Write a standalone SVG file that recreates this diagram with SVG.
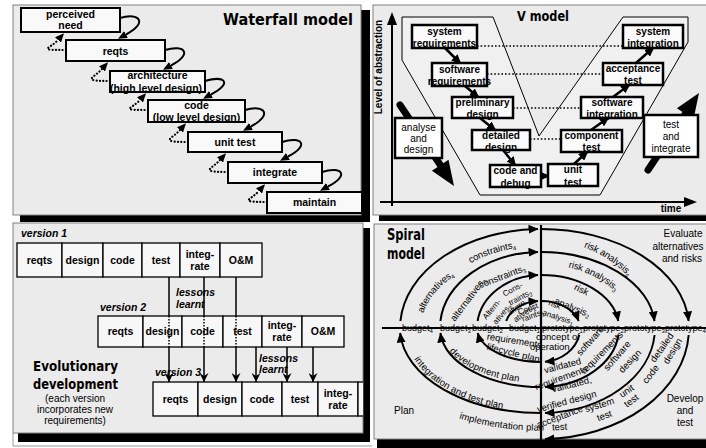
<svg xmlns="http://www.w3.org/2000/svg" width="706" height="448" viewBox="0 0 706 448">
<defs>
<style>
.pnl{fill:#ebebeb;stroke:#808080;stroke-width:1}
.sh{fill:#000}
.wb{fill:#f9f9f9;stroke:#000;stroke-width:2}
.b10{font-family:"Liberation Sans",Arial,sans-serif;font-weight:bold;font-size:10.5px;text-anchor:middle;fill:#000}
.vt{font-family:"Liberation Sans",Arial,sans-serif;font-weight:bold;font-size:10px;text-anchor:middle;fill:#000}
.nt{font-family:"Liberation Sans",Arial,sans-serif;font-size:10px;text-anchor:middle;fill:#000}
.ttl{font-family:"DejaVu Sans",sans-serif;font-weight:bold;fill:#000}
.loop{fill:none;stroke:#000;stroke-width:2;marker-end:url(#ah)}
.dot{fill:none;stroke:#000;stroke-width:2.2;stroke-dasharray:0.1 3.2;stroke-linecap:round;marker-end:url(#ah)}
.vb{fill:#fbfbfb;stroke:#000;stroke-width:2.5}
.va{stroke:#000;stroke-width:2.5;marker-end:url(#ahv)}
.vd{stroke:#000;stroke-width:1.6;stroke-dasharray:1.6 2}
.eb{fill:#f7f7f7;stroke:#000;stroke-width:1.3}
.ev{stroke:#000;stroke-width:1.5}
.evd{stroke:#000;stroke-width:1.5;stroke-dasharray:1.5 1.5}
.ea{stroke:#000;stroke-width:1.5;marker-end:url(#ahe)}
.it{font-family:"Liberation Sans",Arial,sans-serif;font-weight:bold;font-style:italic;font-size:10.5px;fill:#000}
.sp{fill:none;stroke:#000;stroke-width:2;marker-end:url(#ahs)}
.sl{font-family:"Liberation Sans",Arial,sans-serif;font-size:9.5px;fill:#000}
.sm{font-family:"Liberation Sans",Arial,sans-serif;font-size:8px;fill:#000}
.ax{font-family:"Liberation Sans",Arial,sans-serif;font-size:9px;fill:#000}
.sb{font-size:6px}
</style>
<marker id="ah" viewBox="0 0 9 8" refX="0" refY="4" markerWidth="9" markerHeight="8" markerUnits="userSpaceOnUse" orient="auto"><path d="M0,0 L9,4 L0,8 z" fill="#000" stroke="none"/></marker>
<marker id="ahv" viewBox="0 0 10 9" refX="8" refY="4.5" markerWidth="10" markerHeight="9" markerUnits="userSpaceOnUse" orient="auto"><path d="M0,0 L10,4.5 L0,9 z" fill="#000" stroke="none"/></marker>
<marker id="ahe" viewBox="0 0 9 9" refX="9" refY="4.5" markerWidth="9" markerHeight="9" markerUnits="userSpaceOnUse" orient="auto"><path d="M0,0 L9,4.5 L0,9 L3,4.5 z" fill="#000" stroke="none"/></marker>
<marker id="ahs" viewBox="0 0 10 9" refX="9.5" refY="4.5" markerWidth="10" markerHeight="9" markerUnits="userSpaceOnUse" orient="auto"><path d="M0,0 L10,4.5 L0,9 z" fill="#000" stroke="none"/></marker>
<clipPath id="evclip"><rect x="13" y="223" width="350" height="210"/></clipPath>
<path id="p-alt4" d="M420,312 A123.6,79.1 0 0 1 541,248.9"/>
<path id="p-con4" d="M469,260 A118.8,85.5 0 0 1 571,245.3"/>
<path id="p-risk4" d="M585,244 A110.6,91.6 0 0 1 651.6,328"/>
<path id="p-risk3" d="M569,264 A94,67 0 0 1 635,328"/>
<path id="p-dev" d="M452,349 A97.5,51.5 0 0 0 541,379.5"/>
<path id="p-int" d="M417,357 A132.9,80.6 0 0 0 541,408.6"/>
<path id="p-imp" d="M460,415 A169.1,99.1 0 0 0 571,425.5"/>
</defs>
<rect width="706" height="448" fill="#fff"/>
<path d="M13,433 V446 H372" fill="none" stroke="#999" stroke-width="1"/>

<!-- ============ Waterfall panel ============ -->
<g id="waterfall-panel">
<rect class="sh" x="20" y="10" width="350" height="212"/>
<rect class="pnl" x="13" y="5" width="348" height="210"/>
<text class="ttl" x="223" y="25" font-size="16" textLength="130" lengthAdjust="spacingAndGlyphs">Waterfall model</text>
</g>
<g id="wf-connectors">
<path class="loop" d="M120,18 C140,12 148,23 126,34.5"/>
<path class="loop" d="M165,50 C185,44 193,54 171,65.5"/>
<path class="loop" d="M205,81 C225,75 233,83 211,94.5"/>
<path class="loop" d="M245,110 C265,104 273,115 251,126.5"/>
<path class="loop" d="M282,142 C302,136 310,145 288,156.5"/>
<path class="loop" d="M322,172 C342,166 350,175 328,186.5"/>
<path class="dot" d="M66,50 C36,50 50,49 58,40"/>
<path class="dot" d="M110,81 C80,81 94,78 102,69"/>
<path class="dot" d="M148,110 C118,110 132,109 140,100"/>
<path class="dot" d="M188,142 C158,142 172,139 180,130"/>
<path class="dot" d="M228,172 C198,172 212,169 220,160"/>
<path class="dot" d="M267,202 C237,202 251,200 259,191"/>
</g>
<g id="wf-perceived"><rect class="wb" x="21" y="8" width="99" height="24"/><text class="b10" x="70.5" y="18">perceived</text><text class="b10" x="70.5" y="29">need</text></g>
<g id="wf-reqts"><rect class="wb" x="66" y="40" width="99" height="21"/><text class="b10" x="115.5" y="54.5">reqts</text></g>
<g id="wf-arch"><rect class="wb" x="110" y="71" width="95" height="21"/><text class="b10" x="157.5" y="79">architecture</text><text class="b10" x="156" y="91.5">(high level design)</text></g>
<g id="wf-code"><rect class="wb" x="148" y="100" width="97" height="22"/><text class="b10" x="196.5" y="109">code</text><text class="b10" x="196.5" y="121">(low level design)</text></g>
<g id="wf-unit"><rect class="wb" x="188" y="132" width="94" height="20"/><text class="b10" x="235" y="145.5">unit test</text></g>
<g id="wf-integrate"><rect class="wb" x="228" y="162" width="94" height="21"/><text class="b10" x="275" y="176">integrate</text></g>
<g id="wf-maintain"><rect class="wb" x="267" y="192" width="95" height="21"/><text class="b10" x="314.5" y="206">maintain</text></g>

<!-- ============ V model panel ============ -->
<g id="v-panel">
<rect class="sh" x="379" y="10" width="335" height="211"/>
<rect class="pnl" x="373" y="5" width="340" height="210" fill="#e6e6e6"/>
<polygon points="402,17 493,17 539,136 623,17 688,17 688,42 600,195 480,195 402,60" fill="#f0f0f0" stroke="#000" stroke-width="1"/>
<text class="ttl" x="517" y="21" font-size="14" font-family="Liberation Sans" textLength="52" lengthAdjust="spacingAndGlyphs">V model</text>
<line x1="392" y1="206" x2="392" y2="22" stroke="#000" stroke-width="2"/>
<polygon points="392,12 387,25 397,25" fill="#000"/>
<line x1="380" y1="202" x2="686" y2="202" stroke="#000" stroke-width="2"/>
<polygon points="697,202 684,197 684,207" fill="#000"/>
<text class="vt" transform="translate(382,67) rotate(-90)">Level of abstraction</text>
<text class="vt" x="671" y="212">time</text>
</g>
<g id="v-connectors">
<line class="vd" x1="477" y1="46" x2="623" y2="46"/>
<line class="vd" x1="487" y1="74" x2="603" y2="74"/>
<line class="vd" x1="513" y1="108" x2="581" y2="108"/>
<line class="vd" x1="530" y1="139" x2="561" y2="139"/>
<line class="va" x1="445" y1="48" x2="460" y2="63"/>
<line class="va" x1="465" y1="86" x2="478" y2="97"/>
<line class="va" x1="480" y1="118" x2="495" y2="130"/>
<line class="va" x1="503" y1="150" x2="515" y2="165"/>
<line class="va" x1="541" y1="176" x2="548" y2="176"/>
<line class="va" x1="574" y1="164" x2="587" y2="152"/>
<line class="va" x1="591" y1="130" x2="608" y2="118"/>
<line class="va" x1="613" y1="97" x2="629" y2="85"/>
<line class="va" x1="636" y1="63" x2="653" y2="48"/>
</g>
<g id="v-sysreq"><rect class="vb" x="412" y="25" width="65" height="23"/><text class="vt" x="444.5" y="35">system</text><text class="vt" x="444.5" y="46.5">requirements</text></g>
<g id="v-swreq"><rect class="vb" x="432" y="63" width="55" height="23"/><text class="vt" x="459.5" y="73">software</text><text class="vt" x="459.5" y="84.5">requirements</text></g>
<g id="v-prelim"><rect class="vb" x="452" y="97" width="61" height="21"/><text class="vt" x="482.5" y="106">preliminary</text><text class="vt" x="482.5" y="117.5">design</text></g>
<g id="v-detailed"><rect class="vb" x="472" y="130" width="58" height="20"/><text class="vt" x="501" y="139">detailed</text><text class="vt" x="501" y="150.5">design</text></g>
<g id="v-code"><rect class="vb" x="490" y="165" width="51" height="22"/><text class="vt" x="515.5" y="174">code and</text><text class="vt" x="515.5" y="186.5">debug</text></g>
<g id="v-unit"><rect class="vb" x="548" y="164" width="50" height="22"/><text class="vt" x="573" y="173">unit</text><text class="vt" x="573" y="185.5">test</text></g>
<g id="v-comp"><rect class="vb" x="561" y="130" width="61" height="22"/><text class="vt" x="591.5" y="139">component</text><text class="vt" x="591.5" y="151">test</text></g>
<g id="v-swint"><rect class="vb" x="581" y="97" width="62" height="21"/><text class="vt" x="612" y="106">software</text><text class="vt" x="612" y="117.5">integration</text></g>
<g id="v-accept"><rect class="vb" x="603" y="63" width="60" height="22"/><text class="vt" x="633" y="72">acceptance</text><text class="vt" x="633" y="84">test</text></g>
<g id="v-sysint"><rect class="vb" x="623" y="25" width="60" height="23"/><text class="vt" x="653" y="35">system</text><text class="vt" x="653" y="46.5">integration</text></g>
<g id="v-analyse">
<line x1="400" y1="105" x2="441" y2="166" stroke="#000" stroke-width="7" stroke-linecap="round"/>
<polygon points="454,186 448.5,159.7 431.9,170.7" fill="#000"/>
<rect x="395" y="118" width="47" height="40" fill="#fff" stroke="#000" stroke-width="2.5"/>
<text class="nt" x="418.5" y="131">analyse</text><text class="nt" x="418.5" y="142">and</text><text class="nt" x="418.5" y="153">design</text>
</g>
<g id="v-testint">
<line x1="648" y1="170" x2="686" y2="113" stroke="#000" stroke-width="7" stroke-linecap="round"/>
<polygon points="699,93 693.5,119.3 676.9,108.3" fill="#000"/>
<rect x="644" y="115" width="54" height="42" fill="#fff" stroke="#000" stroke-width="2.5"/>
<text class="nt" x="671" y="128">test</text><text class="nt" x="671" y="140">and</text><text class="nt" x="671" y="152">integrate</text>
</g>

<!-- ============ Evolutionary panel ============ -->
<g id="evo-panel">
<rect class="sh" x="18" y="228" width="352" height="214"/>
<rect class="pnl" x="13" y="223" width="350" height="210"/>
<text class="it" x="21" y="237">version 1</text>
<text class="it" x="100" y="311">version 2</text>
<text class="it" x="155" y="376">version 3</text>
<text class="it" x="176" y="296">lessons</text>
<text class="it" x="176" y="308">learnt</text>
<text class="it" x="259" y="362">lessons</text>
<text class="it" x="259" y="373">learnt</text>
<text class="ttl" x="33" y="371" font-size="14" textLength="85" lengthAdjust="spacingAndGlyphs">Evolutionary</text>
<text class="ttl" x="33" y="389" font-size="14" textLength="85" lengthAdjust="spacingAndGlyphs">development</text>
<text class="nt" x="75" y="402" font-size="9.5">(each version</text>
<text class="nt" x="75" y="413" font-size="9.5">incorporates new</text>
<text class="nt" x="75" y="424" font-size="9.5">requirements)</text>
</g>
<g id="evo-connectors">
<line class="ev" x1="169" y1="277" x2="169" y2="316"/><line class="ea" x1="169" y1="347" x2="169" y2="382"/>
<line class="ev" x1="204" y1="277" x2="204" y2="316"/><line class="ea" x1="204" y1="347" x2="204" y2="382"/>
<line class="ev" x1="236" y1="277" x2="236" y2="316"/><line class="ea" x1="236" y1="347" x2="236" y2="382"/>
<line class="ea" x1="256" y1="347" x2="256" y2="382"/>
<line class="ea" x1="287" y1="347" x2="287" y2="382"/>
<line class="ea" x1="313" y1="347" x2="313" y2="382"/>
</g>
<g id="evo-v1">
<rect class="eb" x="17" y="243" width="45" height="34"/><text class="b10" x="39.5" y="263.5">reqts</text>
<rect class="eb" x="62" y="243" width="41" height="34"/><text class="b10" x="82.5" y="263.5">design</text>
<rect class="eb" x="103" y="243" width="39" height="34"/><text class="b10" x="122.5" y="263.5">code</text>
<rect class="eb" x="142" y="243" width="38" height="34"/><text class="b10" x="161" y="263.5">test</text>
<rect class="eb" x="180" y="243" width="40" height="34"/><text class="b10" x="200" y="258">integ-</text><text class="b10" x="200" y="270">rate</text>
<rect class="eb" x="220" y="243" width="42" height="34"/><text class="b10" x="241" y="263.5">O&amp;M</text>
</g>
<g id="evo-v2">
<rect class="eb" x="98" y="316" width="45" height="31"/><text class="b10" x="120.5" y="335">reqts</text>
<rect class="eb" x="143" y="316" width="39" height="31"/><text class="b10" x="162.5" y="335">design</text>
<rect class="eb" x="182" y="316" width="41" height="31"/><text class="b10" x="202.5" y="335">code</text>
<rect class="eb" x="223" y="316" width="39" height="31"/><text class="b10" x="242.5" y="335">test</text>
<rect class="eb" x="262" y="316" width="40" height="31"/><text class="b10" x="282" y="329">integ-</text><text class="b10" x="282" y="341">rate</text>
<rect class="eb" x="302" y="316" width="42" height="31"/><text class="b10" x="323" y="335">O&amp;M</text>
</g>
<g id="evo-v3" clip-path="url(#evclip)">
<rect class="eb" x="153" y="382" width="45" height="34"/><text class="b10" x="175.5" y="402.5">reqts</text>
<rect class="eb" x="198" y="382" width="44" height="34"/><text class="b10" x="220" y="402.5">design</text>
<rect class="eb" x="242" y="382" width="40" height="34"/><text class="b10" x="262" y="402.5">code</text>
<rect class="eb" x="282" y="382" width="36" height="34"/><text class="b10" x="300" y="402.5">test</text>
<rect class="eb" x="318" y="382" width="40" height="34"/><text class="b10" x="338" y="397">integ-</text><text class="b10" x="338" y="409">rate</text>
<rect class="eb" x="358" y="382" width="20" height="34"/>
</g>
<g id="evo-connectors-dotted">
<line class="evd" x1="169" y1="316" x2="169" y2="347"/>
<line class="evd" x1="204" y1="316" x2="204" y2="347"/>
<line class="evd" x1="236" y1="316" x2="236" y2="347"/>
</g>

<!-- ============ Spiral panel ============ -->
<g id="spiral-panel">
<rect class="sh" x="377" y="229" width="335" height="220"/>
<rect class="pnl" x="374" y="224" width="340" height="215"/>
<text class="ttl" x="387" y="240" font-size="15" textLength="38" lengthAdjust="spacingAndGlyphs">Spiral</text>
<text class="ttl" x="387" y="259" font-size="15" textLength="38" lengthAdjust="spacingAndGlyphs">model</text>
<text class="nt" x="683" y="237">Evaluate</text>
<text class="nt" x="678" y="250">alternatives</text>
<text class="nt" x="682" y="262">and risks</text>
<text class="nt" x="685" y="402">Develop</text>
<text class="nt" x="685" y="414">and</text>
<text class="nt" x="685" y="426">test</text>
<text class="nt" x="404" y="414">Plan</text>
<line x1="541" y1="225" x2="541" y2="446" stroke="#000" stroke-width="2.2"/>
<line x1="382" y1="328" x2="706" y2="328" stroke="#000" stroke-width="2"/>
</g>
<g id="spiral-connectors">
<path class="sp" d="M506.2,321 A36,27 0 0 1 538,301.1"/>
<path class="sp" d="M477.6,321 A64,53 0 0 1 538,275.1"/>
<path class="sp" d="M440.4,321 A101,76 0 0 1 538,252"/>
<path class="sp" d="M400.4,321 A141,99 0 0 1 538,229"/>
<path class="sp" d="M541,301 A39,27 0 0 1 578.7,321"/>
<path class="sp" d="M541,275 A78,53 0 0 1 618.3,321"/>
<path class="sp" d="M541,252 A114,76 0 0 1 654.5,321"/>
<path class="sp" d="M541,229 A148,99 0 0 1 688.6,321"/>
<path class="sp" d="M579.2,335 A39,34 0 0 1 545,361.8"/>
<path class="sp" d="M618.4,335 A78,59 0 0 1 545,386.9"/>
<path class="sp" d="M654.6,335 A114,85 0 0 1 545,412.9"/>
<path class="sp" d="M688.7,335 A148,111 0 0 1 545,439"/>
<path class="sp" d="M541,362 A64,34 0 0 1 477.7,333"/>
<path class="sp" d="M541,387 A101,59 0 0 1 440.4,333"/>
<path class="sp" d="M541,413 A141,85 0 0 1 400.2,333"/>
</g>
<g id="spiral-labels">
<text class="sl" dy="3.5"><textPath href="#p-alt4">alternatives<tspan class="sb" dy="2">4</tspan></textPath></text>
<text class="sl" dy="3.5"><textPath href="#p-con4">constraints<tspan class="sb" dy="2">4</tspan></textPath></text>
<text class="sl" dy="3.5"><textPath href="#p-risk4">risk analysis<tspan class="sb" dy="2">4</tspan></textPath></text>
<text class="sl" dy="3.5"><textPath href="#p-risk3">risk analysis<tspan class="sb" dy="2">3</tspan></textPath></text>
<text class="sl" transform="translate(452,320) rotate(-53)" y="3.5">alternatives<tspan class="sb" dy="2">3</tspan></text>
<text class="sl" transform="translate(479,285) rotate(-21)" y="3.5">constraints<tspan class="sb" dy="2">3</tspan></text>
<text class="sm" transform="translate(484,318) rotate(-50)" y="3">Altern-</text>
<text class="sm" transform="translate(494,323) rotate(-50)" y="3">atives<tspan class="sb" dy="2">2</tspan></text>
<text class="sm" transform="translate(503,294) rotate(-28)" y="3">Cons-</text>
<text class="sm" transform="translate(509,303) rotate(-28)" y="3">traints<tspan class="sb" dy="2">2</tspan></text>
<text class="sm" transform="translate(508,313) rotate(-35)" y="3" font-size="7">altern</text>
<text class="sm" transform="translate(514,320) rotate(-35)" y="3" font-size="7">atives<tspan class="sb" dy="2">1</tspan></text>
<text class="sm" transform="translate(518,312) rotate(-20)" y="3" font-size="7">Const</text>
<text class="sm" transform="translate(522,319) rotate(-20)" y="3" font-size="7">raints<tspan class="sb" dy="2">1</tspan></text>
<text class="sl" transform="translate(575,286) rotate(26)" y="3.5">risk</text>
<text class="sl" transform="translate(555,300) rotate(22)" y="3.5">analysis<tspan class="sb" dy="2">2</tspan></text>
<text class="sm" transform="translate(549,302) rotate(21)" y="3">risk</text>
<text class="sm" transform="translate(543,312) rotate(18)" y="3">analysis<tspan class="sb" dy="2">1</tspan></text>
<text class="ax" y="331">
<tspan x="402">budget</tspan><tspan class="sb" dy="2">4</tspan>
<tspan x="440" dy="-2">budget</tspan><tspan class="sb" dy="2">3</tspan>
<tspan x="472" dy="-2">budget</tspan><tspan class="sb" dy="2">2</tspan>
<tspan x="509" dy="-2">budget</tspan><tspan class="sb" dy="2">1</tspan>
<tspan x="542" dy="-2">prototype</tspan><tspan class="sb" dy="2">1</tspan>
<tspan x="583" dy="-2">prototype</tspan><tspan class="sb" dy="2">2</tspan>
<tspan x="624" dy="-2">prototype</tspan><tspan class="sb" dy="2">3</tspan>
<tspan x="665" dy="-2">prototype</tspan><tspan class="sb" dy="2">4</tspan>
</text>
<text class="sl" x="536" y="340">concept of</text>
<text class="sl" x="530" y="350">operation</text>
<text class="sl" transform="translate(487,336) rotate(9)" y="3.5">requirements</text>
<text class="sl" transform="translate(487,346) rotate(14)" y="3.5">lifecycle plan</text>
<text class="sl" dy="3.5"><textPath href="#p-dev">development plan</textPath></text>
<text class="sl" dy="3.5"><textPath href="#p-int">integration and test plan</textPath></text>
<text class="sl" dy="3.5"><textPath href="#p-imp">implementation plan</textPath></text>
<text class="sl" transform="translate(537,425) rotate(-20.6)" y="3.5">acceptance</text>
<text class="sl" transform="translate(552,427) rotate(-3)" y="3.5">test</text>
<text class="sl" transform="translate(585,409) rotate(-17)" y="3.5">system</text>
<text class="sl" transform="translate(597,418) rotate(-20)" y="3.5">test</text>
<text class="sl" transform="translate(537,409) rotate(-15)" y="3.5">verified design</text>
<text class="sl" transform="translate(552,389) rotate(-14)" y="3.5">validated,</text>
<text class="sl" transform="translate(535,387) rotate(-20)" y="3.5">requirements</text>
<text class="sl" transform="translate(544,370) rotate(-14.5)" y="3.5">validated</text>
<text class="sl" transform="translate(578,354) rotate(-48)" y="3.5">software</text>
<text class="sl" transform="translate(582,372) rotate(-45)" y="3.5">requirements</text>
<text class="sl" transform="translate(605,369) rotate(-48.6)" y="3.5">software</text>
<text class="sl" transform="translate(620,371) rotate(-46)" y="3.5">design</text>
<text class="sl" transform="translate(652,361) rotate(-55)" y="3.5">detailed</text>
<text class="sl" transform="translate(665,363) rotate(-59)" y="3.5">design</text>
<text class="sl" transform="translate(644,382) rotate(-52)" y="3.5">code</text>
<text class="sl" transform="translate(620,395) rotate(-34)" y="3.5">unit</text>
<text class="sl" transform="translate(625,405) rotate(-37)" y="3.5">test</text>
</g>
</svg>
